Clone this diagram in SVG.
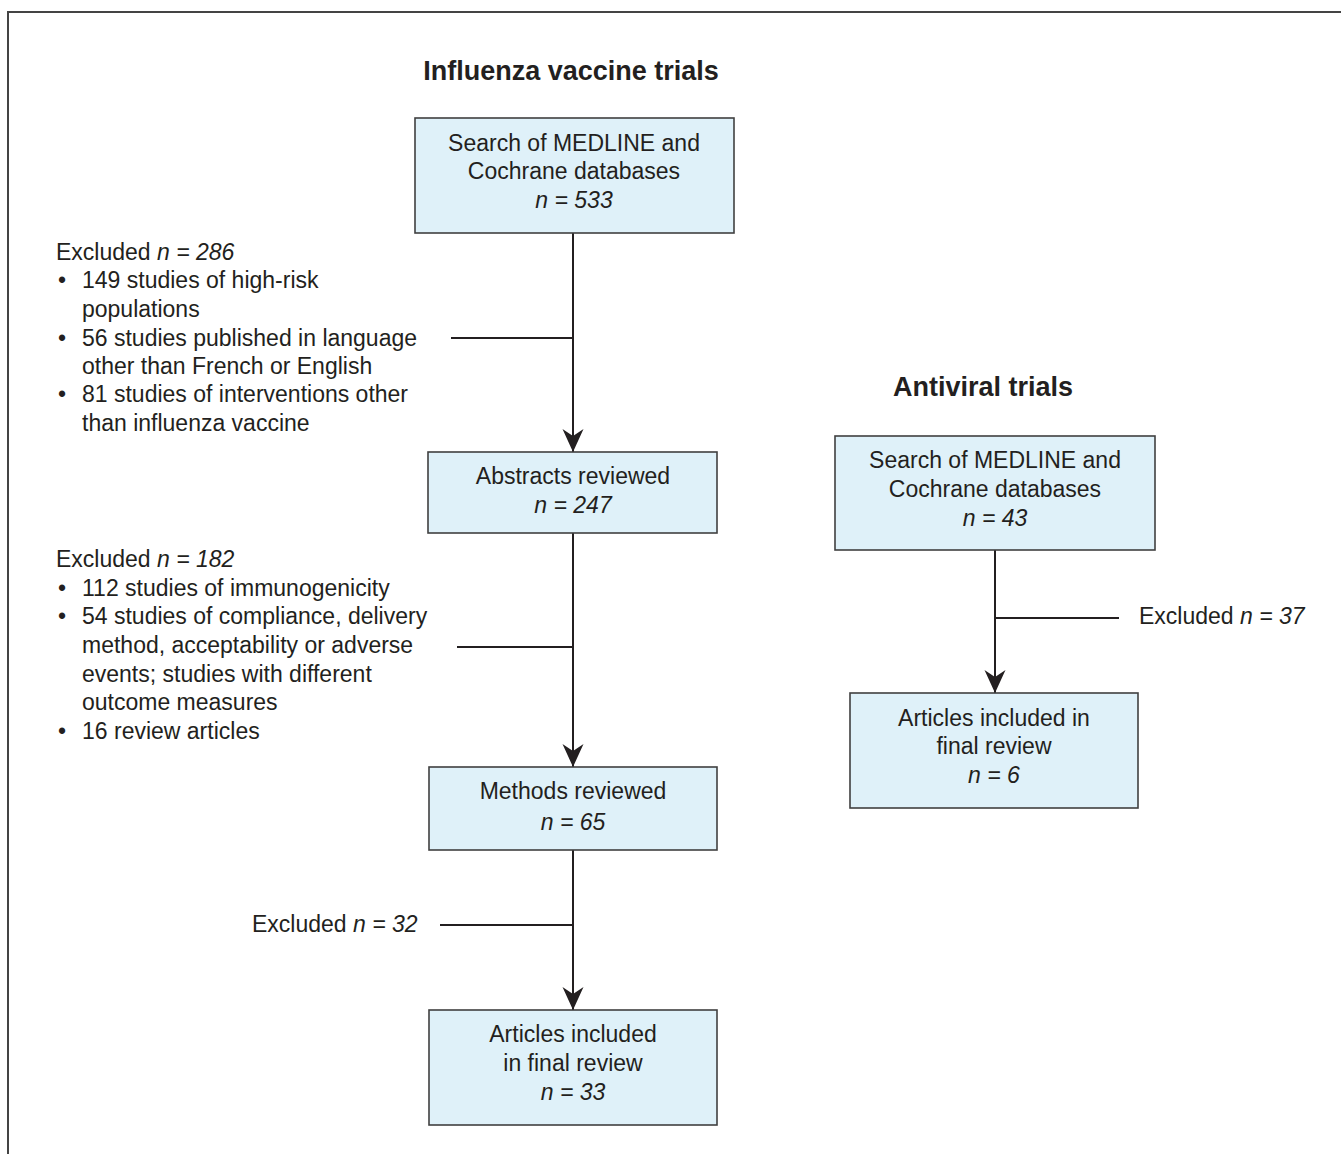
<svg xmlns="http://www.w3.org/2000/svg" width="1341" height="1154" viewBox="0 0 1341 1154">
<defs>
<style>
.t{font-family:"Liberation Sans",Arial,sans-serif;font-size:23px;fill:#231f20}
.c{text-anchor:middle}
.i{font-style:italic}
.h{font-family:"Liberation Sans",Arial,sans-serif;font-size:27px;font-weight:bold;fill:#231f20;text-anchor:middle}
.box{fill:#dff1f9;stroke:#404040;stroke-width:1.6}
.ln{stroke:#231f20;stroke-width:2;fill:none}
</style>
<marker id="arr" markerUnits="userSpaceOnUse" markerWidth="26" markerHeight="26" viewBox="-24 -13 26 26" refX="0" refY="0" orient="auto">
<path d="M0,0 L-23,-10.5 L-16,0 L-23,10.5 Z" fill="#231f20"/>
</marker>
</defs>
<rect x="0" y="0" width="1341" height="1154" fill="#fff"/>
<path d="M8,1154 V12 H1341" fill="none" stroke="#444" stroke-width="2"/>

<text class="h" x="571" y="80">Influenza vaccine trials</text>
<text class="h" x="983" y="396">Antiviral trials</text>

<g id="connectors">
<line class="ln" x1="573" y1="233" x2="573" y2="452" marker-end="url(#arr)"/>
<line class="ln" x1="451" y1="338" x2="573" y2="338"/>
<line class="ln" x1="573" y1="533" x2="573" y2="767" marker-end="url(#arr)"/>
<line class="ln" x1="457" y1="647" x2="573" y2="647"/>
<line class="ln" x1="573" y1="850" x2="573" y2="1010" marker-end="url(#arr)"/>
<line class="ln" x1="440" y1="925" x2="573" y2="925"/>
<line class="ln" x1="995" y1="550" x2="995" y2="693" marker-end="url(#arr)"/>
<line class="ln" x1="995" y1="618" x2="1119" y2="618"/>
</g>

<g id="flu-search">
<rect class="box" x="415" y="118" width="319" height="115"/>
<text class="t c" x="574" y="151">Search of MEDLINE and</text>
<text class="t c" x="574" y="179">Cochrane databases</text>
<text class="t c i" x="574" y="208">n = 533</text>
</g>

<g id="flu-excl1">
<text class="t" x="56" y="260">Excluded <tspan class="i">n = 286</tspan></text>
<text class="t" x="58" y="288">•</text><text class="t" x="82" y="288">149 studies of high-risk</text>
<text class="t" x="82" y="317">populations</text>
<text class="t" x="58" y="346">•</text><text class="t" x="82" y="346">56 studies published in language</text>
<text class="t" x="82" y="374">other than French or English</text>
<text class="t" x="58" y="402">•</text><text class="t" x="82" y="402">81 studies of interventions other</text>
<text class="t" x="82" y="431">than influenza vaccine</text>
</g>

<g id="flu-abstracts">
<rect class="box" x="428" y="452" width="289" height="81"/>
<text class="t c" x="573" y="484">Abstracts reviewed</text>
<text class="t c i" x="573" y="513">n = 247</text>
</g>

<g id="flu-excl2">
<text class="t" x="56" y="567">Excluded <tspan class="i">n = 182</tspan></text>
<text class="t" x="58" y="596">•</text><text class="t" x="82" y="596">112 studies of immunogenicity</text>
<text class="t" x="58" y="624">•</text><text class="t" x="82" y="624">54 studies of compliance, delivery</text>
<text class="t" x="82" y="653">method, acceptability or adverse</text>
<text class="t" x="82" y="682">events; studies with different</text>
<text class="t" x="82" y="710">outcome measures</text>
<text class="t" x="58" y="739">•</text><text class="t" x="82" y="739">16 review articles</text>
</g>

<g id="flu-methods">
<rect class="box" x="429" y="767" width="288" height="83"/>
<text class="t c" x="573" y="799">Methods reviewed</text>
<text class="t c i" x="573" y="830">n = 65</text>
</g>

<g id="flu-excl3">
<text class="t" x="252" y="932">Excluded <tspan class="i">n = 32</tspan></text>
</g>

<g id="flu-final">
<rect class="box" x="429" y="1010" width="288" height="115"/>
<text class="t c" x="573" y="1042">Articles included</text>
<text class="t c" x="573" y="1071">in final review</text>
<text class="t c i" x="573" y="1100">n = 33</text>
</g>

<g id="av-search">
<rect class="box" x="835" y="436" width="320" height="114"/>
<text class="t c" x="995" y="468">Search of MEDLINE and</text>
<text class="t c" x="995" y="497">Cochrane databases</text>
<text class="t c i" x="995" y="526">n = 43</text>
</g>

<g id="av-excl">
<text class="t" x="1139" y="624">Excluded <tspan class="i">n = 37</tspan></text>
</g>

<g id="av-final">
<rect class="box" x="850" y="693" width="288" height="115"/>
<text class="t c" x="994" y="726">Articles included in</text>
<text class="t c" x="994" y="754">final review</text>
<text class="t c i" x="994" y="783">n = 6</text>
</g>
</svg>
